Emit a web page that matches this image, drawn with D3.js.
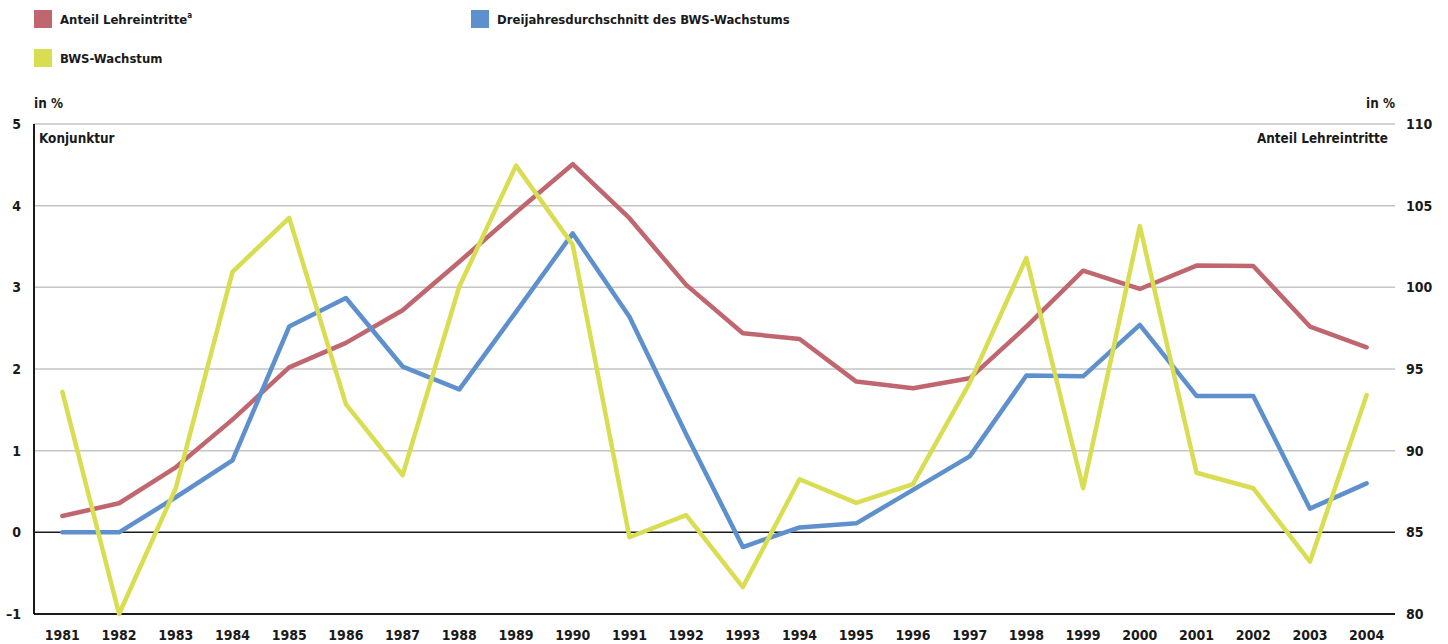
<!DOCTYPE html>
<html><head><meta charset="utf-8">
<script src="https://cdn.jsdelivr.net/npm/d3@7"></script>
<style>
body{margin:0;background:#fff;}
svg text{font-family:"DejaVu Sans Condensed","Liberation Sans Narrow","DejaVu Sans",sans-serif;font-stretch:condensed;font-weight:bold;fill:#1a1a1a;}
</style></head>
<body><svg id="c" width="1448" height="644"></svg>
<script>
const years = ["1981","1982","1983","1984","1985","1986","1987","1988","1989","1990","1991","1992","1993","1994","1995","1996","1997","1998","1999","2000","2001","2002","2003","2004"];
const anteilLehreintritte = [86.0,86.78,88.98,91.9,95.1,96.6,98.6,101.57,104.6,107.54,104.23,100.15,97.19,96.84,94.23,93.82,94.43,97.6,101.02,99.9,101.33,101.31,97.6,96.33];
const dreijahresdurchschnitt = [0,0,0.43,0.88,2.52,2.87,2.03,1.75,2.70,3.66,2.64,1.2,-0.18,0.06,0.11,0.52,0.93,1.92,1.91,2.54,1.67,1.67,0.29,0.60];
const bwsWachstum = [1.72,-1.0,0.54,3.19,3.85,1.57,0.70,3.01,4.49,3.52,-0.06,0.21,-0.67,0.65,0.36,0.59,1.83,3.36,0.54,3.75,0.73,0.54,-0.36,1.68];
const leftTicks = [-1,0,1,2,3,4,5];
const rightTicks = [80,85,90,95,100,105,110];
const leftTickLabels = ["–1","0","1","2","3","4","5"];
const legendItems = [
  {name:"Anteil Lehreintritte", sup:"a", color:"#c0666f"},
  {name:"Dreijahresdurchschnitt des BWS-Wachstums", sup:"", color:"#5e90cd"},
  {name:"BWS-Wachstum", sup:"", color:"#d9dd52"}
];

const svg = d3.select("#c");
const L = 34, R = 1395, T = 124, B = 614;
const x = d3.scalePoint().domain(years).range([L, R]).padding(0.5);
const yL = d3.scaleLinear().domain([-1,5]).range([B,T]);
const yR = d3.scaleLinear().domain([80,110]).range([B,T]);

// gridlines
svg.append("g").selectAll("line").data(leftTicks.filter(d=>d!==0 && d!==-1)).join("line")
  .attr("x1",L).attr("x2",R).attr("y1",d=>yL(d)).attr("y2",d=>yL(d))
  .attr("stroke","#c4c4c4").attr("stroke-width",1.5);
// zero and bottom lines
svg.append("line").attr("x1",L).attr("x2",R).attr("y1",yL(0)).attr("y2",yL(0)).attr("stroke","#1a1a1a").attr("stroke-width",1.5);
svg.append("line").attr("x1",L).attr("x2",R).attr("y1",yL(-1)).attr("y2",yL(-1)).attr("stroke","#1a1a1a").attr("stroke-width",2);
svg.append("line").attr("x1",L).attr("x2",L).attr("y1",T).attr("y2",B).attr("stroke","#1a1a1a").attr("stroke-width",2);

// left axis labels
svg.append("g").selectAll("text").data(leftTicks).join("text")
  .attr("x",21).attr("y",d=>yL(d)+5).attr("text-anchor","end").attr("font-size",14)
  .text((d,i)=>leftTickLabels[i]);
// right axis labels
svg.append("g").selectAll("text").data(rightTicks).join("text")
  .attr("x",1406).attr("y",d=>yR(d)+5).attr("text-anchor","start").attr("font-size",14)
  .text(d=>d);
// x labels
svg.append("g").selectAll("text").data(years).join("text")
  .attr("x",d=>x(d)).attr("y",640).attr("text-anchor","middle").attr("font-size",14)
  .text(d=>d);

svg.append("text").attr("x",34).attr("y",108).attr("font-size",13.4).text("in %");
svg.append("text").attr("x",1395).attr("y",108).attr("text-anchor","end").attr("font-size",13.4).text("in %");
svg.append("text").attr("x",39).attr("y",143).attr("font-size",13.4).text("Konjunktur");
svg.append("text").attr("x",1388).attr("y",143).attr("text-anchor","end").attr("font-size",13.4).text("Anteil Lehreintritte");

// lines
const lineL = d3.line().x((d,i)=>x(years[i])).y(d=>yL(d));
const lineR = d3.line().x((d,i)=>x(years[i])).y(d=>yR(d));
function draw(path, color){
  svg.append("path").attr("d",path).attr("fill","none").attr("stroke",color)
    .attr("stroke-width",4.5).attr("stroke-linejoin","round").attr("stroke-linecap","round");
}
draw(lineR(anteilLehreintritte), legendItems[0].color);
draw(lineL(dreijahresdurchschnitt), legendItems[1].color);
draw(lineL(bwsWachstum), legendItems[2].color);

// legend
const legPos = [{x:34,y:10},{x:471,y:10},{x:34,y:49}];
legendItems.forEach((it,i)=>{
  const p = legPos[i];
  svg.append("rect").attr("x",p.x).attr("y",p.y).attr("width",18).attr("height",18).attr("fill",it.color);
  const t = svg.append("text").attr("x",p.x+26).attr("y",p.y+14).attr("font-size",13).text(it.name);
  if(it.sup) t.append("tspan").attr("font-size",8).attr("dy",-6).text(it.sup);
});
</script></body></html>
